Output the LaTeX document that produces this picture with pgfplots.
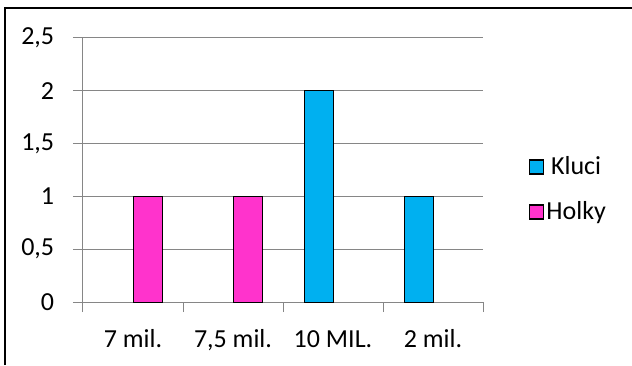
\documentclass[border=0pt]{standalone}
\usepackage{pgfplots}
\pgfplotsset{compat=1.18}
\usepackage{fontspec}
\setmainfont{Carlito}
\definecolor{kluci}{HTML}{00B0F0}
\definecolor{holky}{HTML}{FF33CC}
\definecolor{gridgray}{HTML}{868686}
\begin{document}
\fontsize{26}{30}\selectfont
\begin{tikzpicture}[x=1pt,y=1pt]
\useasboundingbox (0,0) rectangle (632,365);
\draw[black,line width=1.5pt] (5,0) -- (5,357) -- (632,357);
\begin{axis}[
  at={(83pt,63pt)}, anchor=origin,
  scale only axis, width=400pt, height=264pt,
  xmin=0, xmax=4, ymin=0, ymax=2.5,
  xtick={0,1,2,3,4}, xticklabels={},
  extra x ticks={0.5,1.5,2.5,3.5},
  extra x tick labels={7 mil.,{7,5 mil.},10 MIL.,2 mil.},
  extra x tick style={major tick length=0pt, tick label style={anchor=base, yshift=-45pt}},
  ytick={0,0.5,1,1.5,2,2.5},
  yticklabels={0,{0,5},1,{1,5},2,{2,5}},
  tick label style={font=\fontsize{26}{30}\selectfont},
  ymajorgrids, major grid style={gridgray, line width=1pt},
  axis x line*=bottom, axis y line*=left,
  axis line style={gridgray, line width=1pt, -},
  tick style={gridgray, line width=1pt},
  major tick length=10pt,
  tick align=outside,
  y tick label style={xshift=-10pt},
  ybar, bar width=29pt,
  legend style={at={(1.1075,0.426)}, anchor=west, draw=none, fill=none,
    font=\fontsize{26}{30}\selectfont, row sep=19pt,
    /tikz/every even column/.append style={column sep=2pt}},
  legend image code/.code={\draw[#1,draw=black,line width=1.2pt] (0pt,-7pt) rectangle (14pt,7pt);},
  clip=false,
]
\addplot[fill=kluci, draw=black, line width=1pt, bar shift=-14.5pt] coordinates {(2.5,2) (3.5,1)};
\addplot[fill=holky, draw=black, line width=1pt, bar shift=14.5pt] coordinates {(0.5,1) (1.5,1)};
\legend{Kluci,Holky}
\end{axis}
\end{tikzpicture}
\end{document}
